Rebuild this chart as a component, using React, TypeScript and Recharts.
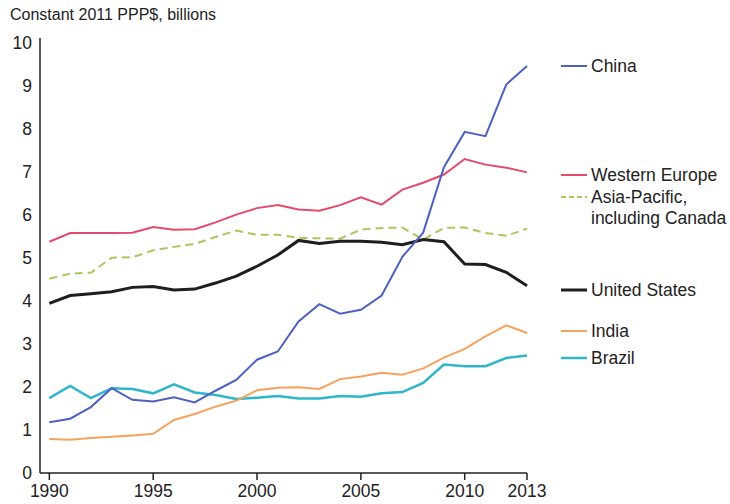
import { LineChart, Line, XAxis, YAxis } from 'recharts';

const years = [
  1990, 1991, 1992, 1993, 1994, 1995, 1996, 1997, 1998, 1999, 2000, 2001,
  2002, 2003, 2004, 2005, 2006, 2007, 2008, 2009, 2010, 2011, 2012, 2013,
];

const china = [1.18, 1.26, 1.53, 1.97, 1.70, 1.66, 1.76, 1.64, 1.91, 2.16, 2.63, 2.82, 3.52, 3.92, 3.70, 3.79, 4.12, 5.02, 5.58, 7.1, 7.92, 7.82, 9.02, 9.45];
const westernEurope = [5.37, 5.57, 5.57, 5.57, 5.58, 5.71, 5.65, 5.66, 5.82, 6.0, 6.15, 6.22, 6.12, 6.09, 6.22, 6.40, 6.23, 6.58, 6.74, 6.93, 7.29, 7.16, 7.09, 6.98];
const asiaPacific = [4.51, 4.63, 4.65, 5.0, 5.01, 5.17, 5.25, 5.32, 5.48, 5.63, 5.53, 5.53, 5.46, 5.45, 5.44, 5.65, 5.69, 5.70, 5.42, 5.69, 5.70, 5.57, 5.51, 5.67];
const unitedStates = [3.94, 4.12, 4.16, 4.21, 4.31, 4.33, 4.25, 4.27, 4.41, 4.57, 4.80, 5.06, 5.40, 5.33, 5.38, 5.38, 5.36, 5.30, 5.42, 5.37, 4.85, 4.84, 4.66, 4.35];
const india = [0.79, 0.77, 0.81, 0.84, 0.87, 0.91, 1.23, 1.37, 1.54, 1.68, 1.92, 1.98, 1.99, 1.95, 2.18, 2.24, 2.33, 2.28, 2.43, 2.68, 2.88, 3.17, 3.43, 3.25];
const brazil = [1.74, 2.02, 1.74, 1.97, 1.95, 1.85, 2.06, 1.87, 1.81, 1.72, 1.75, 1.79, 1.73, 1.73, 1.79, 1.77, 1.85, 1.88, 2.09, 2.52, 2.48, 2.48, 2.67, 2.73];

const xTicks = [1990, 1995, 2000, 2005, 2010, 2013];
const yTicks = [0, 1, 2, 3, 4, 5, 6, 7, 8, 9, 10];

const data = years.map((year, i) => ({
  year,
  china: china[i],
  westernEurope: westernEurope[i],
  asiaPacific: asiaPacific[i],
  unitedStates: unitedStates[i],
  india: india[i],
  brazil: brazil[i],
}));

const FONT = '"Liberation Sans", Arial, sans-serif';

const SERIES = [
  { key: 'brazil', color: '#2fb6c9', width: 2.5, dash: undefined },
  { key: 'india', color: '#f6a25e', width: 2, dash: undefined },
  { key: 'asiaPacific', color: '#a9c75e', width: 2, dash: '8 5' },
  { key: 'westernEurope', color: '#e5496b', width: 2, dash: undefined },
  { key: 'unitedStates', color: '#1e1e1e', width: 3, dash: undefined },
  { key: 'china', color: '#4f60c2', width: 2, dash: undefined },
];

// legend entries sit next to the line ends, like the original
const LEGEND = [
  { lines: ['China'], color: '#4f60c2', top: 66, width: 2, dash: false },
  { lines: ['Western Europe'], color: '#e5496b', top: 175, width: 2, dash: false },
  { lines: ['Asia-Pacific,', 'including Canada'], color: '#a9c75e', top: 197, width: 2, dash: true },
  { lines: ['United States'], color: '#1e1e1e', top: 290, width: 3, dash: false },
  { lines: ['India'], color: '#f6a25e', top: 331, width: 2, dash: false },
  { lines: ['Brazil'], color: '#2fb6c9', top: 358, width: 2.5, dash: false },
];

export default function App() {
  return (
    <div style={{ position: 'absolute', left: 0, top: 0, width: 730, height: 504, background: '#fff', fontFamily: FONT }}>
      <div style={{ position: 'absolute', left: 10, top: 6, fontSize: 16, color: '#222', whiteSpace: 'nowrap' }}>
        Constant 2011 PPP$, billions
      </div>
      <LineChart width={730} height={504} data={data} margin={{ top: 38, right: 203, left: 0, bottom: 1 }}>
        <XAxis
          dataKey="year"
          type="number"
          domain={[1989.55, 2013]}
          ticks={xTicks}
          interval={0}
          height={30}
          tickSize={7}
          tickMargin={5}
          axisLine={{ stroke: '#222', strokeWidth: 1.5 }}
          tickLine={{ stroke: '#222', strokeWidth: 1.5 }}
          tick={{ fill: '#222', fontSize: 17.5, fontFamily: FONT }}
        />
        <YAxis
          type="number"
          domain={[0, 10.1]}
          ticks={yTicks}
          interval={0}
          width={40}
          tickLine={false}
          tickSize={6}
          axisLine={{ stroke: '#222', strokeWidth: 1.5 }}
          tick={{ fill: '#222', fontSize: 17.5, fontFamily: FONT }}
        />
        {SERIES.map((s) => (
          <Line
            key={s.key}
            type="linear"
            dataKey={s.key}
            stroke={s.color}
            strokeWidth={s.width}
            strokeDasharray={s.dash}
            dot={false}
            activeDot={false}
            isAnimationActive={false}
          />
        ))}
      </LineChart>
      {LEGEND.map((item) => (
        <div key={item.lines[0]} style={{ position: 'absolute', left: 561, top: item.top - 10 }}>
          <svg width={28} height={20} style={{ position: 'absolute', left: 0, top: 0 }}>
            <line
              x1={0}
              x2={26}
              y1={10}
              y2={10}
              stroke={item.color}
              strokeWidth={item.width}
              strokeDasharray={item.dash ? '5 3' : undefined}
            />
          </svg>
          <div style={{ position: 'absolute', left: 30, top: 0, fontSize: 17.5, lineHeight: '21px', color: '#222', whiteSpace: 'nowrap' }}>
            {item.lines.map((l) => (
              <div key={l}>{l}</div>
            ))}
          </div>
        </div>
      ))}
    </div>
  );
}
